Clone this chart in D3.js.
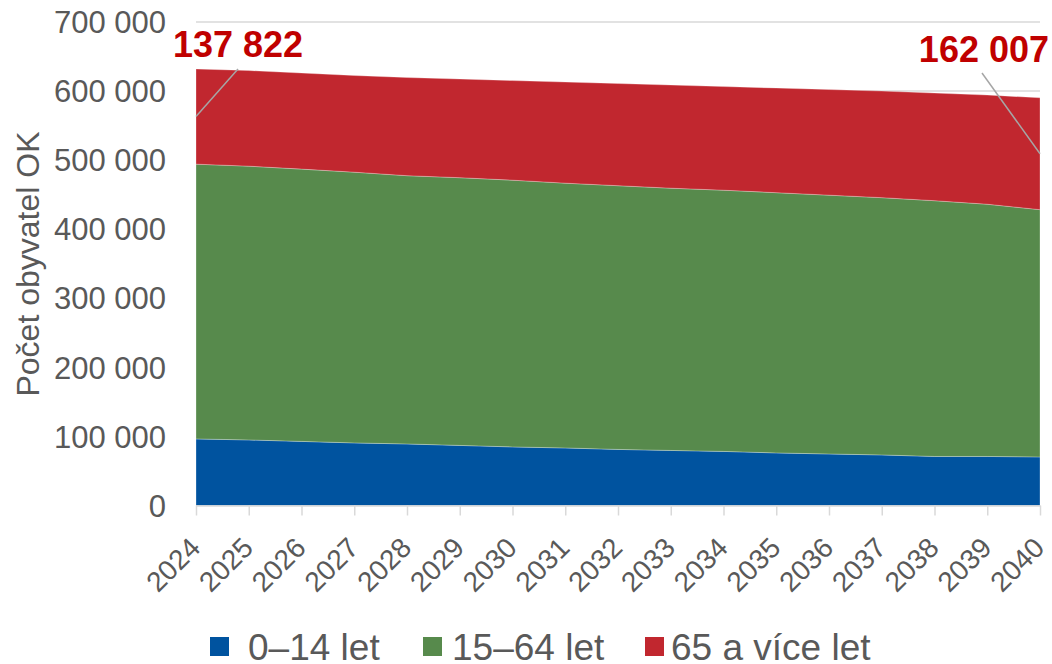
<!DOCTYPE html>
<html>
<head>
<meta charset="utf-8">
<style>
  body { margin: 0; background: #fff; }
  svg { font-family: "Liberation Sans", Arial, sans-serif; }
  .tick-label { fill: #595959; }
</style>
</head>
<body>
<script src="https://d3js.org/d3.v7.min.js"></script>
<script>
// data (population of Olomoucky kraj by age group)
var years = [2024, 2025, 2026, 2027, 2028, 2029, 2030, 2031, 2032,
             2033, 2034, 2035, 2036, 2037, 2038, 2039, 2040];
var age0_14 = [96400, 94900, 92800, 90600, 89100, 87000, 84800, 83300, 81200,
               79700, 78300, 76100, 74600, 73200, 71000, 71000, 70300];
var age15_64 = [397800, 396400, 394200, 392000, 388400, 387600, 386200, 383400, 381800,
                379700, 378200, 376800, 374700, 372500, 370300, 365200, 358000];
var age65plus = [137822, 138400, 139100, 139900, 142100, 142800, 144200, 146300, 147900,
                 149300, 150000, 151500, 152900, 154300, 155800, 158000, 162007];
var seriesNames = ["0–14 let", "15–64 let", "65 a více let"];
var yTicks = [0, 100000, 200000, 300000, 400000, 500000, 600000, 700000];
var yTitle = "Počet obyvatel OK";

var colors = ["#00539f", "#578a4c", "#c1272f"];

var width = 1052, height = 664;
var plotLeft = 196, plotRight = 1040, plotTop = 22, plotBottom = 505.5;

var svg = d3.select("body").append("svg")
    .attr("width", width)
    .attr("height", height);

var x = d3.scalePoint().domain(years).range([plotLeft, plotRight]);
var y = d3.scaleLinear().domain([0, 700000]).range([plotBottom, plotTop]);

var fmt = function(v) { return d3.format(",")(v).replace(/,/g, " "); };

var table = years.map(function(yr, i) {
    return { year: yr, a: age0_14[i], b: age15_64[i], c: age65plus[i] };
});
var stack = d3.stack().keys(["a", "b", "c"]);
var layers = stack(table);

// gridlines
svg.append("g").selectAll("line")
    .data(yTicks.slice(1))
    .enter().append("line")
    .attr("x1", plotLeft).attr("x2", plotRight)
    .attr("y1", function(d) { return y(d); })
    .attr("y2", function(d) { return y(d); })
    .attr("stroke", "#d9d9d9")
    .attr("stroke-width", 1.5);

var area = d3.area()
    .x(function(d) { return x(d.data.year); })
    .y0(function(d) { return y(d[0]); })
    .y1(function(d) { return y(d[1]); });

svg.append("g").selectAll("path")
    .data(layers)
    .enter().append("path")
    .attr("d", area)
    .attr("fill", function(d, i) { return colors[i]; })
    .attr("stroke", "rgba(255,255,255,0.35)")
    .attr("stroke-width", 0.8);

// x axis
var xAxis = svg.append("g")
    .attr("transform", "translate(0," + plotBottom + ")")
    .call(d3.axisBottom(x).tickSize(10).tickSizeOuter(0).tickFormat(""));
xAxis.select(".domain").attr("stroke", "#d9d9d9").attr("stroke-width", 1.5);
xAxis.selectAll(".tick line").attr("stroke", "#d9d9d9").attr("stroke-width", 1.5);

svg.append("g").selectAll("text")
    .data(years)
    .enter().append("text")
    .attr("class", "tick-label")
    .attr("transform", function(d) {
        return "translate(" + (x(d) + 6) + "," + (plotBottom + 44) + ") rotate(-45)";
    })
    .attr("text-anchor", "end")
    .style("font-size", "28px")
    .text(function(d) { return d; });

// y axis labels
svg.append("g").selectAll("text")
    .data(yTicks)
    .enter().append("text")
    .attr("class", "tick-label")
    .attr("x", 166)
    .attr("y", function(d) { return y(d); })
    .attr("dy", "0.36em")
    .attr("text-anchor", "end")
    .style("font-size", "31px")
    .text(fmt);

svg.append("text")
    .attr("class", "tick-label")
    .attr("transform", "rotate(-90)")
    .attr("x", -264)
    .attr("y", 39)
    .attr("text-anchor", "middle")
    .style("font-size", "32px")
    .text(yTitle);

// annotations on the 65+ band
var first = layers[2][0], last = layers[2][years.length - 1];
svg.append("line")
    .attr("x1", x(years[0])).attr("y1", y((first[0] + first[1]) / 2))
    .attr("x2", 238).attr("y2", 69)
    .attr("stroke", "#a6a6a6").attr("stroke-width", 1.5);
svg.append("line")
    .attr("x1", 982).attr("y1", 73)
    .attr("x2", x(years[years.length - 1])).attr("y2", y((last[0] + last[1]) / 2))
    .attr("stroke", "#a6a6a6").attr("stroke-width", 1.5);

svg.append("text")
    .attr("x", 173).attr("y", 57)
    .attr("fill", "#c00000")
    .style("font-size", "36px").style("font-weight", "bold")
    .text(fmt(age65plus[0]));
svg.append("text")
    .attr("x", 1049).attr("y", 62)
    .attr("text-anchor", "end")
    .attr("fill", "#c00000")
    .style("font-size", "36px").style("font-weight", "bold")
    .text(fmt(age65plus[age65plus.length - 1]));

// legend
var legendX = [210, 423, 645];
var legend = svg.append("g").selectAll("g")
    .data(seriesNames)
    .enter().append("g")
    .attr("transform", function(d, i) { return "translate(" + legendX[i] + ",637)"; });
legend.append("rect")
    .attr("width", 19).attr("height", 19)
    .attr("fill", function(d, i) { return colors[i]; });
legend.append("text")
    .attr("class", "tick-label")
    .attr("x", function(d, i) { return [38, 29, 26][i]; })
    .attr("y", 23)
    .style("font-size", "37px")
    .text(function(d) { return d; });
</script>
</body>
</html>
